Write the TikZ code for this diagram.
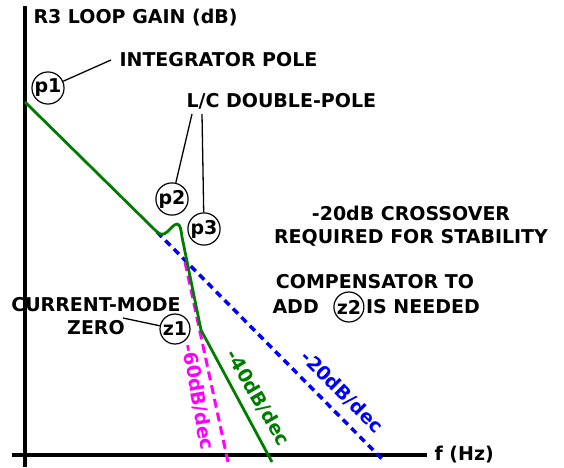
\documentclass[tikz,border=0pt]{standalone}
\usepackage{fontspec}
\setmainfont{DejaVu Sans}
\usepackage{tikz}
\usetikzlibrary{positioning}

\definecolor{gaingreen}{RGB}{0,125,0}
\definecolor{gainblue}{RGB}{0,0,255}
\definecolor{gainpink}{RGB}{255,0,255}

\begin{document}
\begin{tikzpicture}[x=1pt,y=1pt,
	font=\bfseries\fontsize{19}{23}\selectfont,
	pz/.style={circle,draw,line width=1.2pt,minimum size=30pt,inner sep=0pt},
	lead/.style={line width=1.3pt},
	axis/.style={line width=3.5pt}]
	\useasboundingbox (0,0) rectangle (564,467);
	% axes
	\coordinate (ytop) at (25,461);
	\coordinate (ybot) at (25,0);
	\coordinate (xl) at (12,12);
	\coordinate (xr) at (427,12);
	\draw[axis] (ytop) -- (ybot);
	\draw[axis] (xl) -- (xr);
	\node[anchor=west] (fhz) at (431,12) {f (Hz)};
	\node[anchor=west] (title) at (30,449) {R3 LOOP GAIN (dB)};
	
	% asymptotes
	\coordinate (b0) at (157,235);
	\coordinate (b1) at (383,7);
	\coordinate (m0) at (185,205);
	\coordinate (m1) at (228,5);
	\draw[gainblue,line width=3.5pt,dash pattern=on 7pt off 5pt] (b0) -- (b1);
	\draw[gainpink,line width=3pt,dash pattern=on 9pt off 5pt] (m0) -- (m1);
	
	% loop gain
	\draw[gaingreen,line width=2.8pt,line join=round] (25,365) -- (155,237)
		.. controls (159,233) and (161,232) .. (164,233)
		.. controls (169,235) and (173,243) .. (177,243)
		.. controls (180,243) and (181,238) .. (182,230)
		-- (201,137) -- (272,5);
	
	\node[gainpink,rotate=-80] (l60) at (198,70) {-60dB/dec};
	\node[gaingreen,rotate=-60] (l40) at (258,69) {-40dB/dec};
	\node[gainblue,rotate=-45] (l20) at (342,75) {-20dB/dec};
	
	% poles and zeros
	\node[pz] (p1) at (48,379) {p1};
	\node[anchor=west] (intpole) at (116,407) {INTEGRATOR POLE};
	\draw[lead] (p1) -- ([xshift=-5pt]intpole.west);
	
	\node[anchor=west] (lcpole) at (183,366) {L/C DOUBLE-POLE};
	\coordinate (lc2) at (192,353);
	\coordinate (lc3) at (202,353);
	\node[pz] (p2) at (172,268) {p2};
	\node[pz] (p3) at (204,238) {p3};
	\draw[lead] (lc2) -- (p2);
	\draw[lead] (lc3) -- (p3);
	
	\node[align=center] (cmzero) at (96,151) {CURRENT-MODE\\ZERO};
	\coordinate (cm) at (123,149);
	\node[pz] (z1) at (175,138) {z1};
	\draw[lead] (cm) -- (z1);
	
	\node[align=center] (xover) at (411,241) {-20dB CROSSOVER\\REQUIRED FOR STABILITY};
	\node (comp) at (375,185) {COMPENSATOR TO};
	\node[anchor=west] (add) at (269,160) {ADD};
	\node[pz] (z2) [right = 11pt of add] {z2};
	\node (need) [right = -2pt of z2] {IS NEEDED};
\end{tikzpicture}
\end{document}
